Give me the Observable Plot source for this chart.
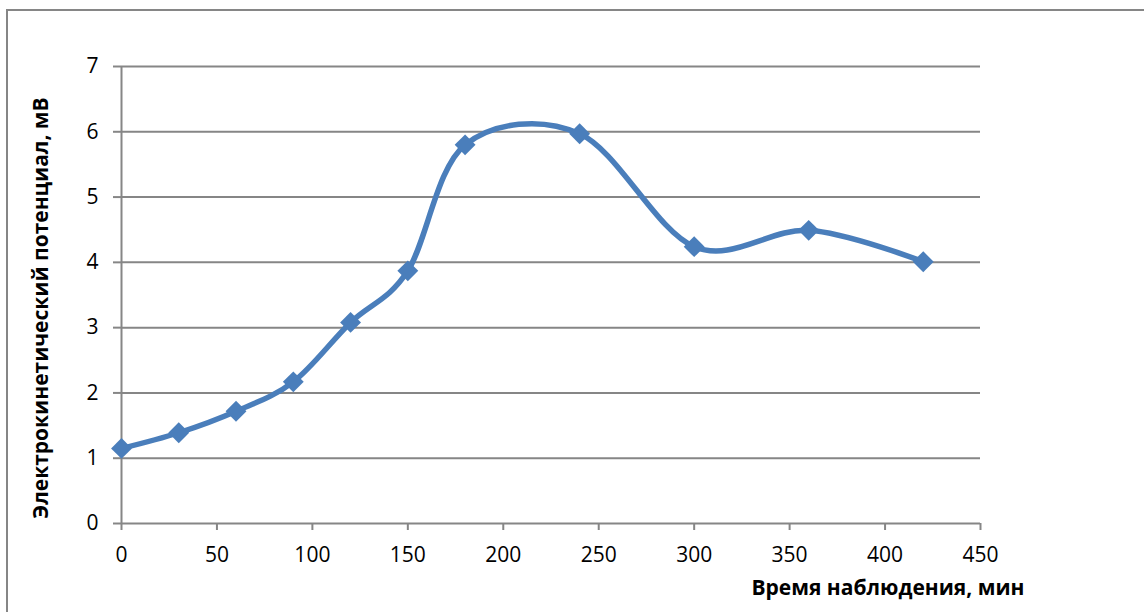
<!DOCTYPE html>
<html>
<head>
<meta charset="utf-8">
<script src="https://cdn.jsdelivr.net/npm/d3@7"></script>
<script src="https://cdn.jsdelivr.net/npm/@observablehq/plot@0.6"></script>
<style>
  html, body { margin: 0; padding: 0; background: #fff; overflow: hidden; }
  #wrap { position: relative; width: 1144px; height: 612px; overflow: hidden; }
  #border {
    position: absolute; left: 6px; top: 9px; width: 1300px; height: 800px;
    border-left: 2px solid #868686; border-top: 2px solid #868686;
    box-sizing: border-box; pointer-events: none;
  }
  #chart { position: absolute; left: 0; top: 0; }
</style>
</head>
<body>
<div id="wrap">
  <div id="border"></div>
  <div id="chart"></div>
</div>
<script>
// Observation time (minutes) and electrokinetic potential (mV)
const timeMin = [0, 30, 60, 90, 120, 150, 180, 240, 300, 360, 420];
const potentialMV = [1.15, 1.39, 1.72, 2.17, 3.08, 3.87, 5.80, 5.97, 4.24, 4.49, 4.01];

const xTicks = [0, 50, 100, 150, 200, 250, 300, 350, 400, 450];
const yTicks = [0, 1, 2, 3, 4, 5, 6, 7];

const xTitle = "Время наблюдения, мин";
const yTitle = "Электрокинетический потенциал, мВ";

const data = timeMin.map((t, i) => ({t, v: potentialMV[i]}));

const gridColor = "#868686";
const lineColor = "#4a7ebb";
const font = "'Open Sans', sans-serif";

const diamond = d3.symbolDiamond2 || {
  draw(ctx, size) {
    const r = Math.sqrt(size) * 0.62625;
    ctx.moveTo(0, -r); ctx.lineTo(r, 0); ctx.lineTo(0, r); ctx.lineTo(-r, 0); ctx.closePath();
  }
};

const chart = Plot.plot({
  width: 1144,
  height: 612,
  marginLeft: 121,
  marginRight: 164,
  marginTop: 66,
  marginBottom: 89,
  style: {fontFamily: font, fontSize: "21px", color: "#000", background: "transparent"},
  x: {domain: [0, 450]},
  y: {domain: [0, 7]},
  marks: [
    Plot.gridY(yTicks, {stroke: gridColor, strokeOpacity: 1, strokeWidth: 2}),
    Plot.axisY(yTicks, {
      tickSize: 8, tickPadding: 15, stroke: gridColor, strokeWidth: 2,
      fill: "#000", label: null, tickFormat: d => String(d)
    }),
    Plot.ruleX([0], {y1: 0, y2: 7, stroke: gridColor, strokeWidth: 2}),
    Plot.axisX(xTicks, {
      tickSize: 7, tickPadding: 17, stroke: gridColor, strokeWidth: 2,
      fill: "#000", label: null, tickFormat: d => String(d)
    }),
    Plot.line(data, {
      x: "t", y: "v", curve: "cardinal", tension: 0,
      stroke: lineColor, strokeWidth: 5.5, strokeLinejoin: "round", strokeLinecap: "round"
    }),
    Plot.dot(data, {x: "t", y: "v", symbol: diamond, r: 9.4, fill: lineColor, stroke: "none"}),
    Plot.text([xTitle], {
      frameAnchor: "bottom-right", dx: 44, dy: 65, textAnchor: "end", lineAnchor: "middle",
      fontWeight: "bold", fontSize: 21, fill: "#000"
    }),
    Plot.text([yTitle], {
      frameAnchor: "left", dx: -80, dy: 13, rotate: -90, textAnchor: "middle", lineAnchor: "middle",
      fontWeight: "bold", fontSize: 21, fill: "#000"
    })
  ]
});

document.getElementById("chart").append(chart);
</script>
</body>
</html>
